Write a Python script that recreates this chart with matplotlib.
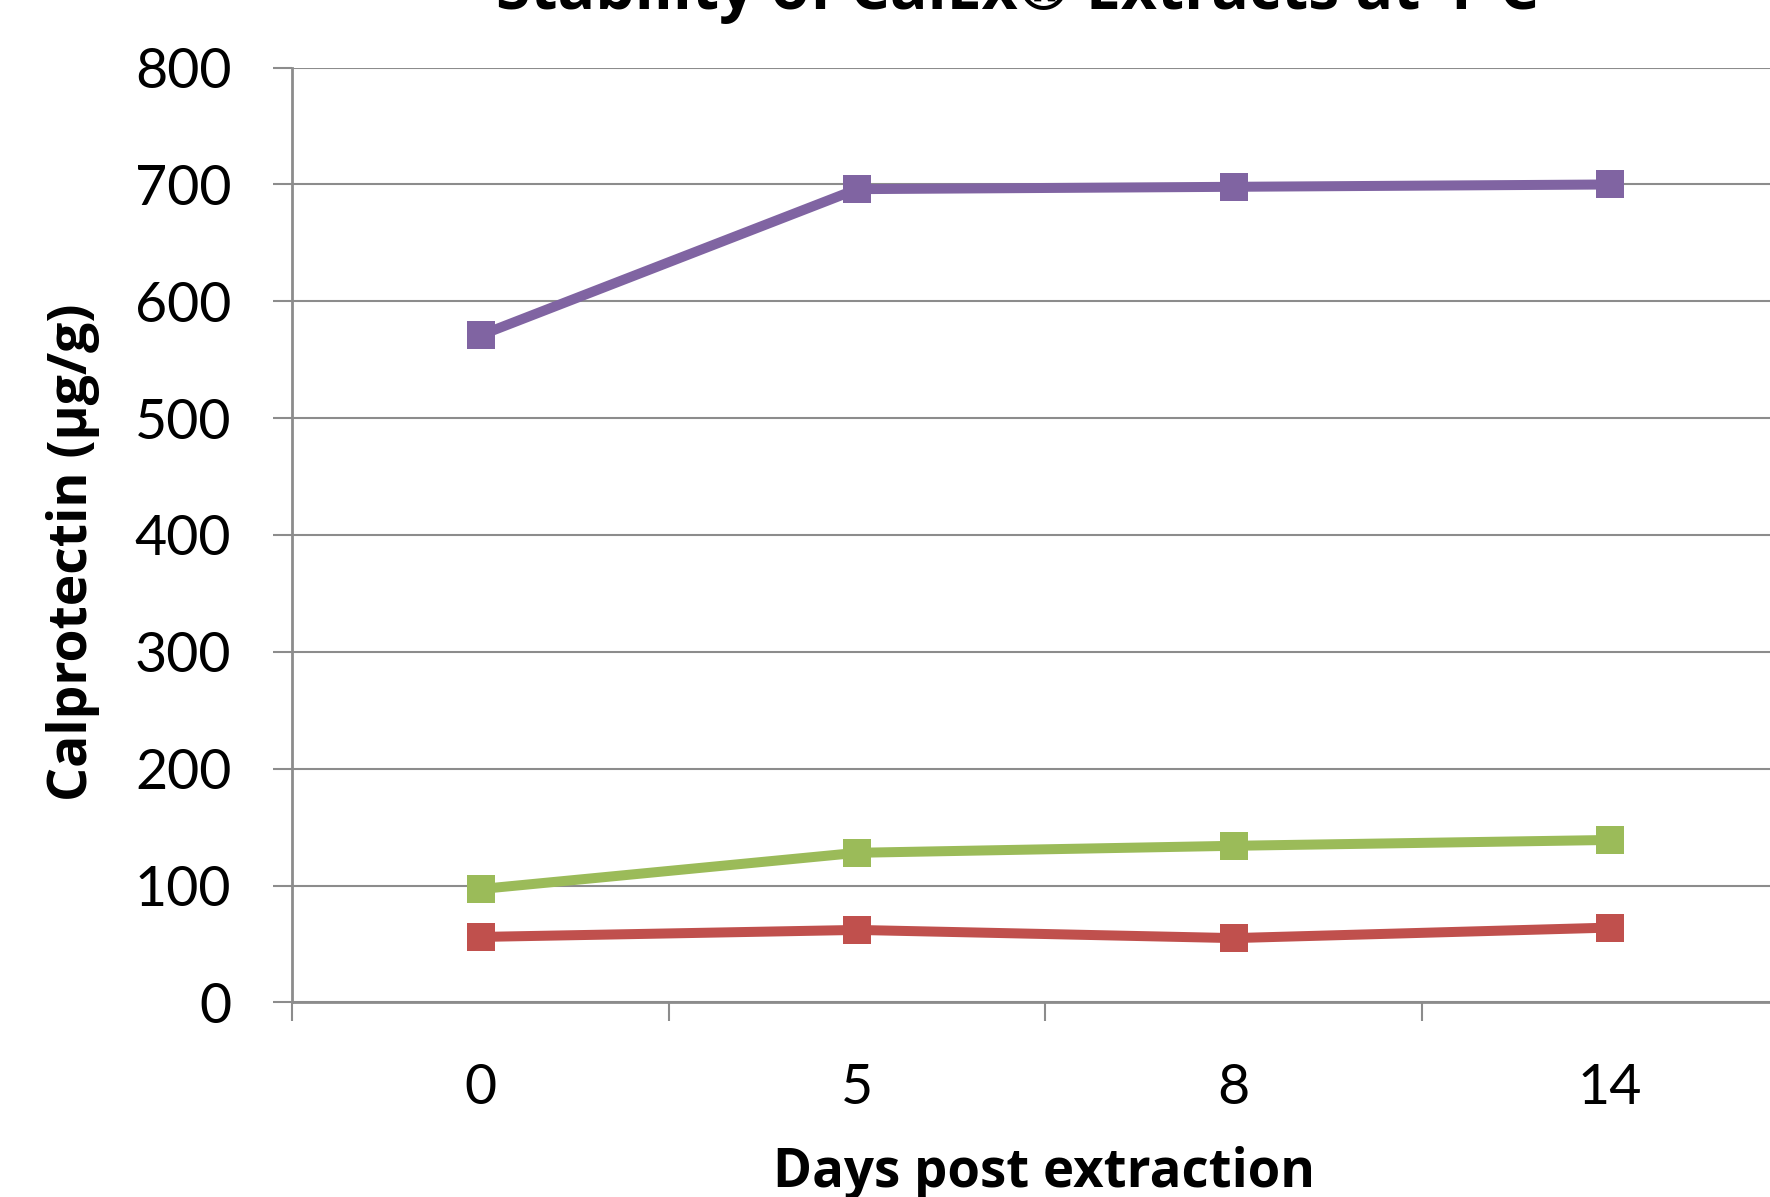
import matplotlib.pyplot as plt
import numpy as np

# data: calprotectin (ug/g) measured on days after extraction
days = ["0", "5", "8", "14"]
high_sample = [571, 696, 698, 700]
mid_sample = [97, 128, 134, 139]
low_sample = [56, 62, 55, 64]

colors = ["#8064A2", "#9BBB59", "#C0504D"]
grid_gray = "#8C8C8C"

plt.rcParams['font.family'] = ['Lato', 'DejaVu Sans']

fig = plt.figure(figsize=(17.7, 11.97), dpi=100)
# plot area runs past the right edge of the figure
ax = fig.add_axes([0.1652, 0.1626, 0.8508, 0.7809])

x = np.arange(len(days))
for series, c in zip([high_sample, mid_sample, low_sample], colors):
  ax.plot(x, series,
    color=c,
    linewidth=7.2,
    marker='s',
    markersize=20,
    markeredgewidth=0,
    solid_capstyle='butt',
    zorder=3
  )

# axes settings
ax.set_xlim(-0.5, 3.5)
ax.set_ylim(0, 800)
ax.set_yticks(np.arange(0, 801, 100))
ax.set_xticks(x)
ax.set_xticklabels(days)
ax.set_xticks(np.arange(-0.5, 3.6, 1.0), minor=True)

ax.grid(True, axis='y', color=grid_gray, linewidth=1.5, zorder=0)
for side in ['top', 'right']:
  ax.spines[side].set_visible(False)
for side in ['left', 'bottom']:
  ax.spines[side].set_color(grid_gray)
  ax.spines[side].set_linewidth(2)

ax.tick_params(axis='y', length=14, width=1.5, color=grid_gray,
  pad=30, labelsize=40)
ax.tick_params(axis='x', which='major', length=0, pad=44, labelsize=40)
ax.tick_params(axis='x', which='minor', length=14, width=1.5, color=grid_gray)

# labels and title
fig.text(0.590, (1197 - 1187) / 1197, "Days post extraction",
  ha='center', va='baseline', fontsize=38, fontweight='bold',
  family=['Open Sans', 'DejaVu Sans'])
fig.text(73 / 1770, 1 - 552 / 1197, "Calprotectin (µg/g)",
  ha='center', va='center', rotation=90, fontsize=38.5, fontweight='bold',
  family=['Open Sans', 'DejaVu Sans'])
fig.text(0.575, 1 - 9 / 1197, "Stability of CalEx® Extracts at 4°C",
  ha='center', va='baseline', fontsize=45, fontweight='bold',
  family=['Open Sans', 'DejaVu Sans'])

fig.savefig("out.png", dpi=100)
